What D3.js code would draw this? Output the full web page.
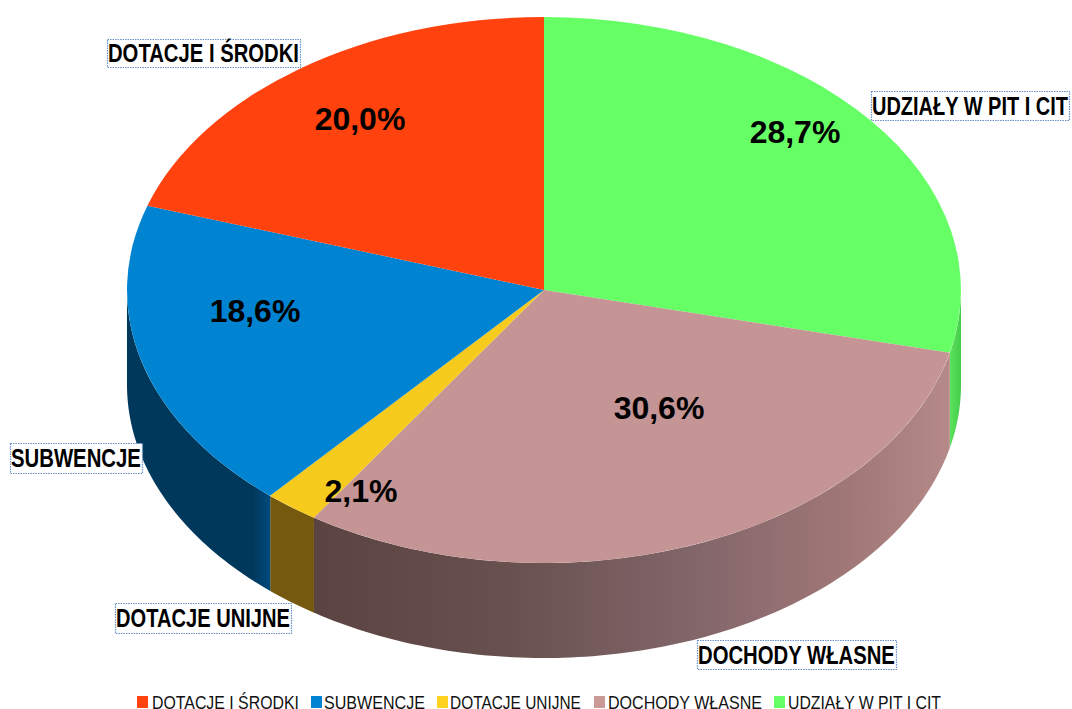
<!DOCTYPE html>
<html>
<head>
<meta charset="utf-8">
<style>
  html, body { margin: 0; padding: 0; background: #fff; }
  svg { display: block; }
  text { font-family: "Liberation Sans", Arial, sans-serif; }
</style>
</head>
<body>
<div id="chart"></div>
<script src="https://cdn.jsdelivr.net/npm/d3@7/dist/d3.min.js"></script>
<script>
// Chart values, in the clockwise order starting from 12 o'clock.
var categories = ["UDZIAŁY W PIT I CIT", "DOCHODY WŁASNE", "DOTACJE UNIJNE", "SUBWENCJE", "DOTACJE I ŚRODKI"];
var shares = [28.7, 30.6, 2.1, 18.6, 20.0];
var shareLabels = ["28,7%", "30,6%", "2,1%", "18,6%", "20,0%"];
var legendOrder = ["DOTACJE I ŚRODKI", "SUBWENCJE", "DOTACJE UNIJNE", "DOCHODY WŁASNE", "UDZIAŁY W PIT I CIT"];

// Configuration parameters.
var width = 1072,
    height = 709,
    depth = 95,
    wallStep = Math.PI / 180;

// Colours by category.
var topColor = d3.scaleOrdinal()
  .domain(categories)
  .range(["#66ff66", "#c59494", "#f7cb1e", "#0084d1", "#ff420e"]);
var legendColor = d3.scaleOrdinal()
  .domain(categories)
  .range(["#66ff66", "#cc9999", "#ffd320", "#0084d1", "#ff420e"]);

// Hand placed boxes and texts, as they sit in the picture.
var calloutBox = {
  "DOTACJE I ŚRODKI": [107, 39, 193, 28],
  "UDZIAŁY W PIT I CIT": [871, 91, 198, 29],
  "SUBWENCJE": [10, 443, 132, 30],
  "DOTACJE UNIJNE": [115, 603, 176, 30],
  "DOCHODY WŁASNE": [697, 640, 199, 29]
};
var percentAt = {
  "DOTACJE I ŚRODKI": [360, 119],
  "UDZIAŁY W PIT I CIT": [795, 132],
  "SUBWENCJE": [255, 311],
  "DOTACJE UNIJNE": [361, 491],
  "DOCHODY WŁASNE": [659, 408]
};
var legendAt = {
  "DOTACJE I ŚRODKI": [137, 152, 147],
  "SUBWENCJE": [311, 324, 101],
  "DOTACJE UNIJNE": [437, 450, 131],
  "DOCHODY WŁASNE": [594, 608, 154],
  "UDZIAŁY W PIT I CIT": [774, 788, 153]
};

// Side wall shading, stops run from left to right.
var wallStops = {
  "UDZIAŁY W PIT I CIT": [[0, "#5ce25c"], [1, "#45cc4a"]],
  "DOCHODY WŁASNE": [[0, "#5a4341"], [0.3, "#68504e"], [0.6, "#82666a"], [0.85, "#a27878"], [1, "#b58a89"]],
  "DOTACJE UNIJNE": [[0, "#75590e"], [1, "#75590e"]],
  "SUBWENCJE": [[0, "#00385c"], [0.88, "#00385c"], [1, "#004a7e"]],
  "DOTACJE I ŚRODKI": [[0, "#80210a"], [1, "#80210a"]]
};

// The top ellipse is a unit pie mapped through two linear scales.
var x = d3.scaleLinear().domain([-1, 1]).range([127, 961]),
    y = d3.scaleLinear().domain([-1, 1]).range([17, 563]);

var pie = d3.pie().sort(null).value(function (d){ return d.share; });
var slices = pie(categories.map(function (name, i){
  return { name: name, share: shares[i], label: shareLabels[i] };
}));

var svg = d3.select("#chart").append("svg")
  .attr("width", width)
  .attr("height", height);
var defs = svg.append("defs");

// Clamps a slice to the part of the rim that faces the viewer.
function frontSpan(d){
  var from = Math.max(d.startAngle, Math.PI / 2),
      to = Math.min(d.endAngle, Math.PI * 3 / 2);
  return from < to ? [from, to] : null;
}

// Outline of the wall under the rim between two angles.
var wallArea = d3.area()
  .x(function (a){ return x(Math.sin(a)); })
  .y0(function (a){ return y(-Math.cos(a)); })
  .y1(function (a){ return y(-Math.cos(a)) + depth; });

var walls = slices.filter(frontSpan);

walls.forEach(function (d, i){
  var span = frontSpan(d),
      xs = d3.range(span[0], span[1], wallStep).concat(span[1]).map(function (a){ return x(Math.sin(a)); });
  defs.append("linearGradient")
    .attr("id", "wall" + i)
    .attr("gradientUnits", "userSpaceOnUse")
    .attr("x1", d3.min(xs)).attr("x2", d3.max(xs))
    .attr("y1", 0).attr("y2", 0)
    .selectAll("stop")
    .data(wallStops[d.data.name])
    .join("stop")
    .attr("offset", function (s){ return s[0]; })
    .attr("stop-color", function (s){ return s[1]; });
});

// Render the side walls.
svg.append("g").selectAll("path")
  .data(walls)
  .join("path")
  .attr("d", function (d){
    var span = frontSpan(d);
    return wallArea(d3.range(span[0], span[1], wallStep).concat(span[1]));
  })
  .attr("fill", function (d, i){ return "url(#wall" + i + ")"; });

// Render the top of the pie.
var arc = d3.arc().innerRadius(0).outerRadius(1);
svg.append("g")
  .attr("transform", "translate(" + x(0) + "," + y(0) + ") scale(" + (x(1) - x(0)) + "," + (y(1) - y(0)) + ")")
  .selectAll("path")
  .data(slices)
  .join("path")
  .attr("d", arc)
  .attr("fill", function (d){ return topColor(d.data.name); });

// Percent labels.
svg.append("g").selectAll("text")
  .data(slices)
  .join("text")
  .attr("x", function (d){ return percentAt[d.data.name][0]; })
  .attr("y", function (d){ return percentAt[d.data.name][1]; })
  .attr("dy", "0.35em")
  .attr("text-anchor", "middle")
  .attr("font-size", 32)
  .attr("font-weight", "bold")
  .attr("fill", "#000")
  .text(function (d){ return d.data.label; });

// Squeezes a text sideways so it fills the given width, the reference
// stretches its fonts the same way.
function squeeze(selection, left, baseline, fitWidth){
  selection.each(function (d){
    var natural = this.getComputedTextLength();
    d3.select(this).attr("transform",
      "translate(" + left(d) + "," + baseline(d) + ") scale(" + fitWidth(d) / natural + ",1)");
  });
}

// Category callouts with their dotted frames.
var callouts = svg.append("g").selectAll("g")
  .data(categories)
  .join("g");
callouts.append("rect")
  .attr("x", function (d){ return calloutBox[d][0] + 0.5; })
  .attr("y", function (d){ return calloutBox[d][1] + 0.5; })
  .attr("width", function (d){ return calloutBox[d][2]; })
  .attr("height", function (d){ return calloutBox[d][3]; })
  .attr("fill", "#fff")
  .attr("stroke", "#6a90c8")
  .attr("stroke-width", 1.2)
  .attr("stroke-dasharray", "1.5,1");
callouts.append("text")
  .attr("font-size", 26)
  .attr("font-weight", "bold")
  .attr("fill", "#000")
  .text(function (d){ return d; })
  .call(squeeze,
    function (d){ return calloutBox[d][0] + 1; },
    function (d){ return calloutBox[d][1] + calloutBox[d][3] / 2 + 9; },
    function (d){ return calloutBox[d][2] - 2; });

// Legend along the bottom.
var legend = svg.append("g").selectAll("g")
  .data(legendOrder)
  .join("g");
legend.append("rect")
  .attr("x", function (d){ return legendAt[d][0]; })
  .attr("y", 696)
  .attr("width", 11)
  .attr("height", 12)
  .attr("fill", function (d){ return legendColor(d); });
legend.append("text")
  .attr("font-size", 19)
  .attr("fill", "#111")
  .text(function (d){ return d; })
  .call(squeeze,
    function (d){ return legendAt[d][1]; },
    function (){ return 708.5; },
    function (d){ return legendAt[d][2]; });
</script>
</body>
</html>
